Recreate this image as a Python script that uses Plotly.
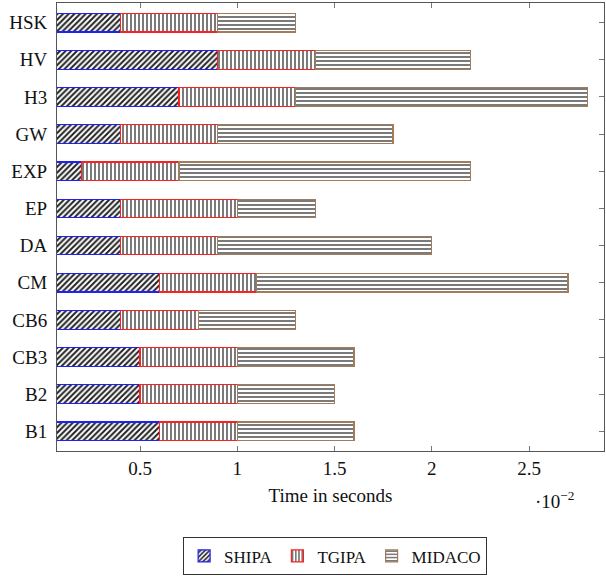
import plotly.graph_objects as go

# Categories (bottom to top) and times in units of 1e-2 seconds
categories = ["B1", "B2", "CB3", "CB6", "CM", "DA", "EP", "EXP", "GW", "H3", "HV", "HSK"]
shipa = [0.6, 0.5, 0.5, 0.4, 0.6, 0.4, 0.4, 0.2, 0.4, 0.7, 0.9, 0.4]
tgipa = [0.4, 0.5, 0.5, 0.4, 0.5, 0.5, 0.6, 0.5, 0.5, 0.6, 0.5, 0.5]
midaco = [0.6, 0.5, 0.6, 0.5, 1.6, 1.1, 0.4, 1.5, 0.9, 1.5, 0.8, 0.4]
x_ticks = [0.5, 1, 1.5, 2, 2.5]
x_tick_labels = ["0.5", "1", "1.5", "2", "2.5"]

SERIF = "Liberation Serif, DejaVu Serif, serif"
FS = 19

series = [
    ("SHIPA", shipa, "/", "#1f1fff", 0.5),
    ("TGIPA", tgipa, "|", "#ff1f1f", 0.3),
    ("MIDACO", midaco, "-", "#a07c5a", 0.3),
]

fig = go.Figure()
for name, vals, shape, lc, sol in series:
    fig.add_trace(go.Bar(
        name=name, y=categories, x=vals, orientation="h", width=0.5,
        marker=dict(
            color="white",
            line=dict(color=lc, width=1.2),
            pattern=dict(shape=shape, fgcolor="#222222", bgcolor="white",
                         size=4, solidity=sol, fillmode="replace"),
        ),
    ))

fig.update_layout(
    barmode="stack",
    width=606, height=576,
    margin=dict(l=57, r=2, t=3, b=125, autoexpand=False),
    plot_bgcolor="white", paper_bgcolor="white",
    font=dict(family=SERIF, size=FS, color="#111111"),
    showlegend=True,
    legend=dict(orientation="h", xref="container", yref="container",
                x=0.553, xanchor="center", y=0.067, yanchor="top",
                bordercolor="#333333", borderwidth=1, font=dict(family=SERIF, size=17),
                itemwidth=30, traceorder="normal"),
    xaxis=dict(range=[0.073, 2.885], tickvals=x_ticks, ticktext=x_tick_labels,
               ticks="inside", ticklen=5, tickcolor="#777777", showline=True,
               linecolor="#555555", linewidth=1, mirror="ticks", showgrid=False,
               zeroline=False, automargin=False, tickfont=dict(family=SERIF, size=FS),
               title=dict(text="Time in seconds", font=dict(family=SERIF, size=FS), standoff=10)),
    yaxis=dict(range=[-0.53, 11.53], ticks="inside", ticklen=5, tickcolor="#777777",
               showline=True, linecolor="#555555", linewidth=1, mirror="ticks",
               showgrid=False, zeroline=False, layer="below traces", automargin=False,
               tickfont=dict(family=SERIF, size=FS), ticklabelstandoff=5),
)

fig.add_annotation(text="·10<sup>−2</sup>", xref="paper", yref="paper",
                   x=0.91, y=-0.109, xanchor="center", yanchor="middle", showarrow=False,
                   font=dict(family=SERIF, size=FS))

fig.write_html("out.html", config={"displayModeBar": False},
               post_script="document.body.style.margin='0';")
